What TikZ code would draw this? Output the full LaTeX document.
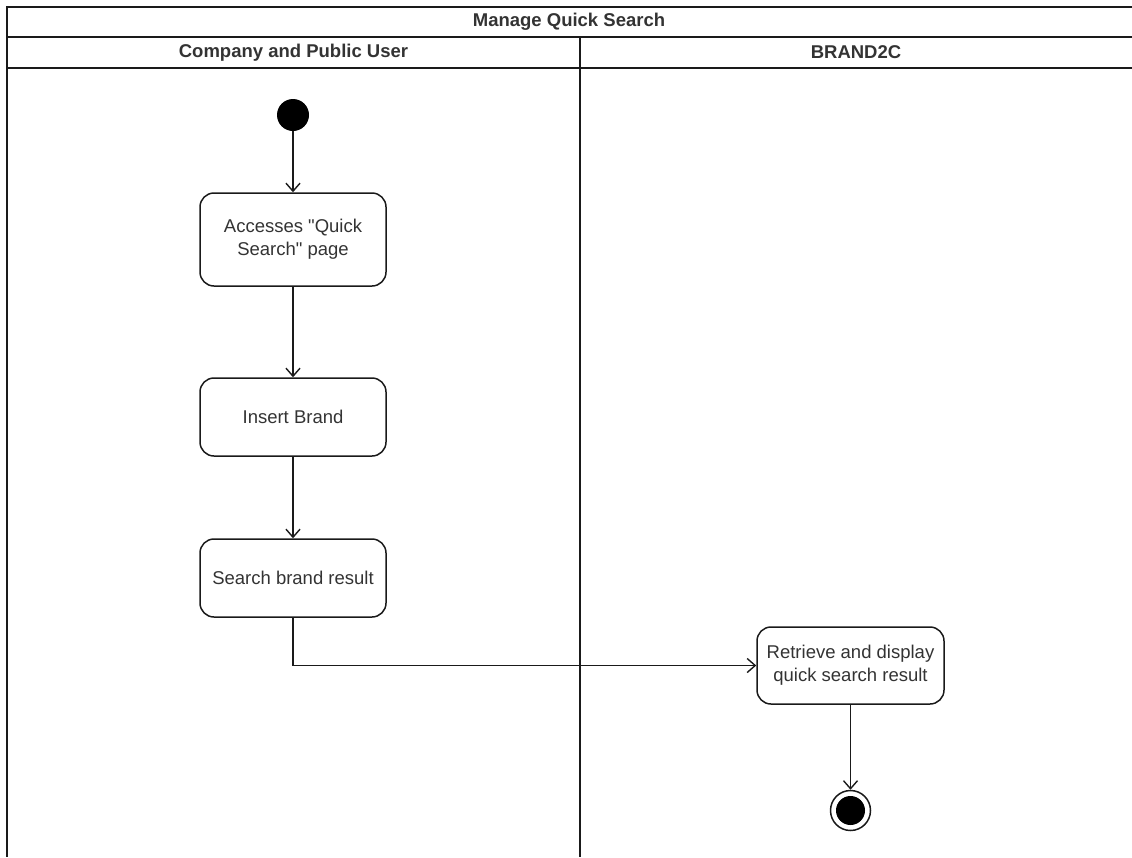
\documentclass[tikz,border=0pt]{standalone}
\usepackage{fontspec}
\setmainfont{Liberation Sans}[Ligatures=TeXOff]
\usetikzlibrary{arrows.meta}
\definecolor{linecol}{HTML}{1A1A1A}
\definecolor{textcol}{HTML}{333333}
\tikzset{
  lane/.style={draw=linecol, line width=1.5pt},
  action/.style={draw=linecol, line width=1.5pt, rounded corners=14pt,
    minimum width=186pt, minimum height=78pt, align=center,
    font=\fontsize{18.5}{23}\selectfont, text=textcol, inner sep=2pt},
  flow/.style={draw=linecol, line width=1.5pt,
    -{Straight Barb[length=8pt,width=14pt,line width=1.4pt]}},
  headtext/.style={font=\fontsize{18.5}{22}\selectfont\bfseries, text=textcol},
}
\begin{document}
\begin{tikzpicture}[x=1pt, y=-1pt]
\useasboundingbox (0,0) rectangle (1132,857);

% pool frame, header bands and lane divider
\draw[lane] (1132,7) -- (7,7) -- (7,857);
\draw[lane] (7,37) -- (1132,37);
\draw[lane] (7,68) -- (1132,68);
\draw[lane] (580,37) -- (580,857);

\node[headtext] (title) at (569,22) {Manage Quick Search};
\node[headtext] (laneA) at (293.5,52.5) {Company and Public User};
\node[headtext] (laneB) at (856,52.5) {BRAND2C};

% initial node
\node[circle, fill=black, minimum size=32pt, inner sep=0pt] (start) at (293,115) {};

% actions
\node[action, minimum height=93pt] (access) at (293,239.5) {Accesses "Quick\\Search" page};
\node[action] (insert) at (293,417) {Insert Brand};
\node[action] (search) at (293,578) {Search brand result};
\node[action, minimum width=187pt, minimum height=77pt] (retrieve) at (850.5,665.5) {Retrieve and display\\quick search result};

% final node
\node[circle, draw=linecol, line width=1.5pt, minimum size=40pt, inner sep=0pt] (final) at (850.5,810.5) {};
\node[circle, fill=black, minimum size=29pt, inner sep=0pt] (finalcore) at (final.center) {};

% control flows
\draw[flow] (start) -- (access);
\draw[flow] (access) -- (insert);
\draw[flow] (insert) -- (search);
\draw[flow] (search.south) |- (retrieve.west);
\draw[flow] (retrieve) -- (final);
\end{tikzpicture}
\end{document}
